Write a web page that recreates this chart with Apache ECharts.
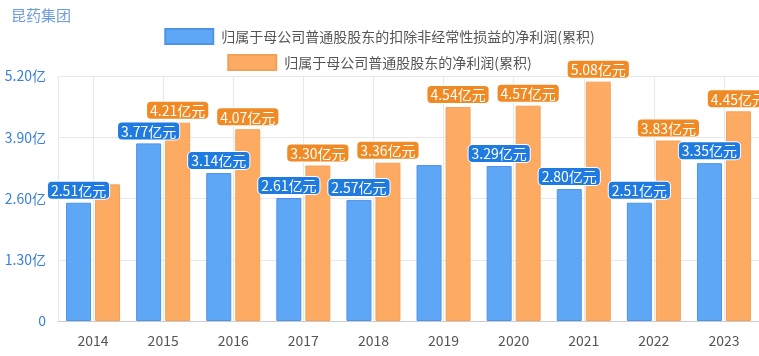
<!DOCTYPE html>
<html>
<head>
<meta charset="utf-8">
<script src="https://cdn.jsdelivr.net/npm/echarts@6/dist/echarts.min.js"></script>
<style>html,body{margin:0;padding:0;background:#fff}#c{width:759px;height:356px}</style>
</head>
<body>
<div id="c"></div>
<script>
const categories = ['2014','2015','2016','2017','2018','2019','2020','2021','2022','2023'];
const deductedProfit = [2.51, 3.77, 3.14, 2.61, 2.57, 3.31, 3.29, 2.80, 2.51, 3.35];
const netProfit = [2.90, 4.21, 4.07, 3.30, 3.36, 4.54, 4.57, 5.08, 3.83, 4.45];
const yTicks = [0, 1.3, 2.6, 3.9, 5.2];
const seriesNames = ['归属于母公司普通股股东的扣除非经常性损益的净利润(累积)', '归属于母公司普通股股东的净利润(累积)'];
const hiddenDeductedLabels = ['2019'];
const hiddenNetLabels = ['2014'];

function makeData(values, hidden) {
  return values.map((v, i) => hidden.indexOf(categories[i]) >= 0 ? { value: v, label: { show: false } } : v);
}
// helper axis: two half-slots per category so that grid lines fall on category centres
const halfSlots = [];
categories.forEach(c => { halfSlots.push(c + 'a'); halfSlots.push(c + 'b'); });

const fontFamily = '"Microsoft YaHei", "Noto Sans CJK SC", sans-serif';
const chart = echarts.init(document.getElementById('c'));
chart.setOption({
  animation: false,
  textStyle: { fontFamily: fontFamily },
  title: { text: '昆药集团', left: 6, top: 3, textStyle: { fontSize: 15, fontWeight: 'normal', color: '#6d9be0', fontFamily: fontFamily } },
  legend: [
    { data: [seriesNames[0]], left: 'center', top: 23, itemWidth: 48, itemHeight: 15, icon: 'rect',
      textStyle: { fontSize: 14, color: '#555', padding: [0, 0, 0, 3] } },
    { data: [seriesNames[1]], left: 'center', top: 49, itemWidth: 48, itemHeight: 15, icon: 'rect',
      textStyle: { fontSize: 14, color: '#555', padding: [0, 0, 0, 3] } }
  ],
  grid: { left: 58, right: 0, top: 76, bottom: 35, containLabel: false },
  xAxis: [{
    type: 'category', data: categories,
    axisLine: { lineStyle: { color: '#cccccc' } },
    axisTick: { show: false },
    axisLabel: { color: '#555', fontSize: 14, margin: 13 },
    splitLine: { show: false }
  }, {
    type: 'category', data: halfSlots, position: 'bottom',
    axisLine: { show: false }, axisTick: { show: false }, axisLabel: { show: false },
    splitLine: { show: true, interval: (idx) => idx % 2 === 1 || idx === 0, lineStyle: { color: '#e8e8e8' } }
  }],
  yAxis: {
    type: 'value', min: yTicks[0], max: yTicks[yTicks.length - 1], interval: yTicks[1] - yTicks[0],
    axisLine: { show: false }, axisTick: { show: false },
    axisLabel: { color: '#3a7fd8', fontSize: 14, margin: 12,
      formatter: v => v === 0 ? '0' : v.toFixed(2) + '亿' },
    splitLine: { lineStyle: { color: '#e8e8e8' } }
  },
  series: [
    { name: seriesNames[0], type: 'bar', data: makeData(deductedProfit, hiddenDeductedLabels),
      barWidth: 25, barGap: '16%', xAxisIndex: 0,
      itemStyle: { color: '#5ea6f6', borderColor: '#4d94e6', borderWidth: 1 },
      label: { show: true, position: 'top', distance: 4, color: '#fff', fontSize: 14,
        backgroundColor: '#1f7be0', borderColor: '#fff', borderWidth: 1, borderRadius: 4, padding: [2, 3, 1, 3],
        formatter: p => p.value.toFixed(2) + '亿元' } },
    { name: seriesNames[1], type: 'bar', data: makeData(netProfit, hiddenNetLabels),
      barWidth: 25, xAxisIndex: 0,
      itemStyle: { color: '#fdab63', borderColor: '#f5a058', borderWidth: 1 },
      label: { show: true, position: 'top', distance: 4, color: '#fff', fontSize: 14,
        backgroundColor: '#f08a24', borderColor: '#fff', borderWidth: 1, borderRadius: 4, padding: [2, 3, 1, 3],
        formatter: p => p.value.toFixed(2) + '亿元' } }
  ]
});
</script>
</body>
</html>
